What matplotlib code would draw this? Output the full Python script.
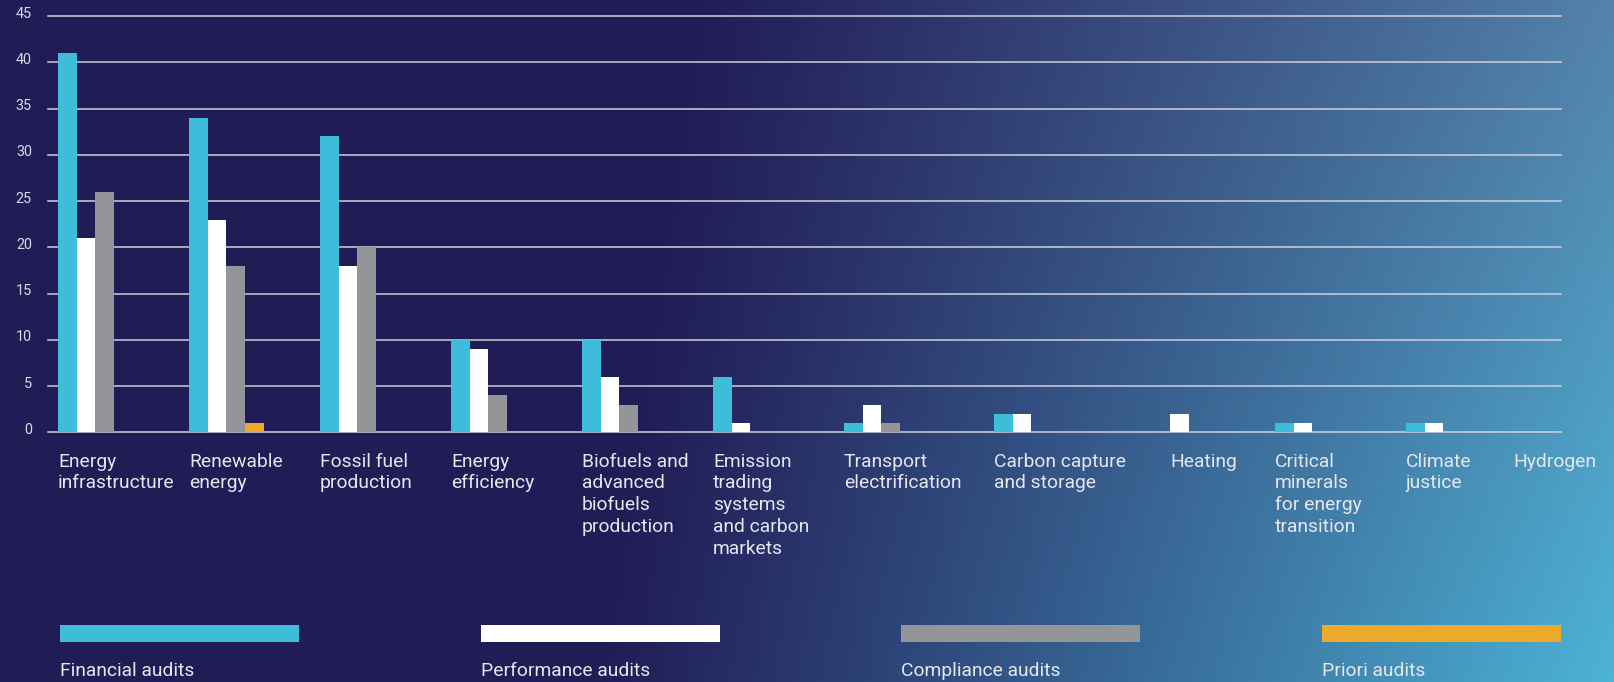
import numpy as np
import matplotlib.pyplot as plt
from matplotlib.patches import Rectangle

plt.rcParams['font.family'] = ['Roboto', 'DejaVu Sans']

# ---------------------------------------------------------------------------
# data: number of audits per topic and audit type
# ---------------------------------------------------------------------------
categories = [
    "Energy\ninfrastructure",
    "Renewable\nenergy",
    "Fossil fuel\nproduction",
    "Energy\nefficiency",
    "Biofuels and\nadvanced\nbiofuels\nproduction",
    "Emission\ntrading\nsystems\nand carbon\nmarkets",
    "Transport\nelectrification",
    "Carbon capture\nand storage",
    "Heating",
    "Critical\nminerals\nfor energy\ntransition",
    "Climate\njustice",
    "Hydrogen",
]
financial = [41, 34, 32, 10, 10, 6, 1, 2, 0, 1, 1, 0]
performance = [21, 23, 18, 9, 6, 1, 3, 2, 2, 1, 1, 0]
compliance = [26, 18, 20, 4, 3, 0, 1, 0, 0, 0, 0, 0]
priori = [0, 1, 0, 0, 0, 0, 0, 0, 0, 0, 0, 0]

series_names = ["Financial audits", "Performance audits",
                "Compliance audits", "Priori audits"]
series_colors = ["#3dbdd9", "#ffffff", "#939598", "#ecaa2a"]
y_ticks = list(range(0, 46, 5))

# layout (x axis runs in pixel units of the canvas)
W, H = 1614, 682
group_x = [58, 189, 320, 451, 582, 713, 844, 994, 1170, 1275, 1406, 1513]
bar_w = 18.7
text_col = "#e6e6ee"
grid_col = "#cfd0de"
label_size = 13.9

fig = plt.figure(figsize=(W / 100, H / 100), dpi=100)

# --- gradient backdrop: navy on the left, fading to blue / cyan on the right
bg = fig.add_axes([0, 0, 1, 1], zorder=-5)
u = np.linspace(0, 1, W)[None, :]
v = np.linspace(0, 1, H)[:, None]
navy = np.array([33, 28, 86]) / 255
top_right = np.array([84, 130, 170]) / 255
bot_right = np.array([76, 180, 214]) / 255
start = 0.43 - 0.06 * v
w = np.clip((u - start) / (1 - start), 0, 1) ** 1.05
target = top_right[None, None, :] * (1 - v[..., None]) + bot_right[None, None, :] * v[..., None]
img = navy[None, None, :] + w[..., None] * (target - navy[None, None, :])
bg.imshow(np.clip(img, 0, 1), aspect='auto', extent=[0, 1, 0, 1], origin='upper')
bg.set_axis_off()

# --- main chart
ax_left, ax_right = 48, 1561
y0_px, y45_px = 432.3, 16
ax = fig.add_axes([ax_left / W, (H - y0_px) / H,
                   (ax_right - ax_left) / W, (y0_px - y45_px) / H])
ax.patch.set_visible(False)
ax.set_xlim(ax_left, ax_right)
ax.set_ylim(0, 45)
for s in ax.spines.values():
    s.set_visible(False)
ax.set_xticks([])
ax.set_yticks(y_ticks)
ax.set_yticklabels([])
ax.tick_params(axis='y', length=0)

for t in y_ticks:
    ax.axhline(t, color=grid_col, lw=1.1, zorder=1, clip_on=False)
    ax.annotate(str(t), xy=(0, t), xycoords=('axes fraction', 'data'),
                xytext=(-11.6, -1.1), textcoords='offset points',
                ha='right', va='baseline', fontsize=10.4, color="#d9d9e6")

# bars: empty series take no room inside a group
series = [financial, performance, compliance, priori]
for i, gx in enumerate(group_x):
    k = 0
    for vals, col in zip(series, series_colors):
        if vals[i] > 0:
            ax.bar(gx + k * bar_w, vals[i], width=bar_w, align='edge',
                   color=col, linewidth=0, zorder=2)
            k += 1
    ax.annotate(categories[i], xy=(gx, 0), xycoords='data',
                xytext=(0, -14.6), textcoords='offset points',
                ha='left', va='top', fontsize=label_size, color=text_col,
                linespacing=1.27)

# --- legend along the bottom
leg_x = [60, 481, 901, 1322]
for lx, name, col in zip(leg_x, series_names, series_colors):
    fig.add_artist(Rectangle((lx / W, (H - 642) / H), 239 / W, 17 / H,
                             transform=fig.transFigure, color=col, lw=0))
    fig.text(lx / W, (H - 675.7) / H, name, ha='left', va='baseline',
             fontsize=label_size, color=text_col)

fig.savefig('out.png', dpi=100)
